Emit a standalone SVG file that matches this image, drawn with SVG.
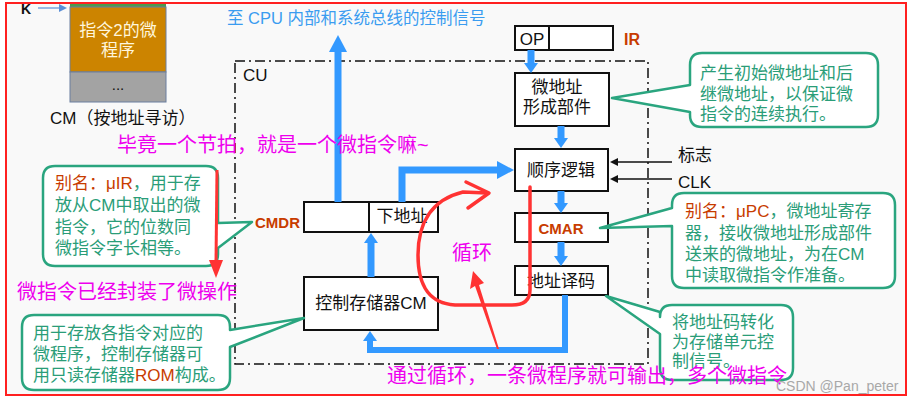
<svg xmlns="http://www.w3.org/2000/svg" width="911" height="403" viewBox="0 0 911 403">
<style>
text{font-family:"Liberation Sans","Noto Sans CJK SC",sans-serif;}
.t17{font-size:17px;fill:#111;}
.box{fill:#fff;stroke:#111;stroke-width:2;}
.org{fill:#c83c00;font-weight:bold;}
.orn{fill:#c83c00;}
.grn{fill:#2a9d78;font-size:17px;}
.call{fill:#fff;stroke:#2aa57f;stroke-width:2.5;stroke-linejoin:round;}
.mag{fill:#ee00ee;font-size:20px;}
.blue{fill:none;stroke:#3399ff;stroke-width:7;}
.red{fill:none;stroke:#ff3333;stroke-width:3.5;stroke-linecap:round;stroke-linejoin:round;}
.blk{fill:none;stroke:#111;stroke-width:1.5;}
</style>
<defs>
<marker id="AH" markerUnits="userSpaceOnUse" markerWidth="17" markerHeight="18" viewBox="0 0 17 18" refX="1" refY="9" orient="auto"><path d="M0,0 L17,9 L0,18 z" fill="#3399ff"/></marker>
<marker id="ah" markerUnits="userSpaceOnUse" markerWidth="10" markerHeight="14" viewBox="0 0 10 14" refX="1" refY="7" orient="auto"><path d="M0,0 L10,7 L0,14 z" fill="#3399ff"/></marker>
<marker id="kh" markerUnits="userSpaceOnUse" markerWidth="8" markerHeight="8" viewBox="0 0 8 8" refX="1" refY="4" orient="auto"><path d="M0,0 L8,4 L0,8 z" fill="#111"/></marker>
<marker id="bh" markerUnits="userSpaceOnUse" markerWidth="8" markerHeight="8" viewBox="0 0 8 8" refX="1" refY="4" orient="auto"><path d="M0,0 L8,4 L0,8 z" fill="#5b8fd6"/></marker>
</defs>
<rect x="0" y="0" width="911" height="403" fill="#fff"/>
<rect x="6" y="3" width="900" height="392" fill="#f9f9f9" stroke="#ff2020" stroke-width="2"/>

<!-- CU boundary -->
<g id="cu">
<rect x="235" y="61" width="413" height="303" fill="none" stroke="#111" stroke-width="1.5" stroke-dasharray="10,4,2,4"/>
<text x="243" y="81" class="t17">CU</text>
</g>

<!-- top-left CM fragment -->
<g id="cm-memory">
<text x="21" y="14" style="font-size:14px;font-weight:bold;fill:#111">K</text>
<line x1="38" y1="8" x2="60" y2="8" stroke="#5b8fd6" stroke-width="1.2" marker-end="url(#bh)"/>
<rect x="70" y="4" width="96" height="3" fill="#4d9a4d"/>
<rect x="70" y="7" width="96" height="65" fill="#cc8400" stroke="#6a7fa0" stroke-width="1"/>
<rect x="70" y="72" width="96" height="30" fill="#a3a3a3" stroke="#6a7fa0" stroke-width="1"/>
<text x="118" y="36" text-anchor="middle" style="font-size:17px;fill:#fff6dc">指令2的微</text>
<text x="118" y="56" text-anchor="middle" style="font-size:17px;fill:#fff6dc">程序</text>
<text x="118" y="90" text-anchor="middle" style="font-size:15px;fill:#111">...</text>
<text x="50" y="124" class="t17">CM（按地址寻访）</text>
</g>

<text x="227" y="24" style="font-size:16.5px;fill:#3a9cf0">至 CPU 内部和系统总线的控制信号</text>

<g id="ir">
<rect x="515" y="26" width="98" height="24" class="box"/>
<line x1="549" y1="26" x2="549" y2="50" stroke="#111" stroke-width="2"/>
<text x="532" y="45" text-anchor="middle" class="t17">OP</text>
<text x="624" y="45" class="org" style="font-size:16px">IR</text>
</g>

<g id="micro-addr-gen">
<rect x="515" y="73" width="94" height="53" class="box"/>
<text x="557" y="93" text-anchor="middle" class="t17">微地址</text>
<text x="557" y="113" text-anchor="middle" class="t17">形成部件</text>
</g>

<g id="seq-logic">
<rect x="515" y="149" width="93" height="42" class="box"/>
<text x="561" y="176" text-anchor="middle" class="t17">顺序逻辑</text>
<text x="678" y="161" class="t17">标志</text>
<text x="678" y="188" class="t17">CLK</text>
</g>

<g id="cmar">
<rect x="515" y="213" width="93" height="29" class="box"/>
<text x="561" y="234" text-anchor="middle" class="org" style="font-size:15px">CMAR</text>
</g>

<g id="addr-decode">
<rect x="515" y="266" width="93" height="29" class="box"/>
<text x="561" y="287" text-anchor="middle" class="t17">地址译码</text>
</g>

<g id="cmdr">
<rect x="304" y="202" width="134" height="30" class="box"/>
<line x1="369" y1="202" x2="369" y2="232" stroke="#111" stroke-width="2"/>
<text x="402" y="222" text-anchor="middle" class="t17">下地址</text>
<text x="255" y="228" class="org" style="font-size:15px">CMDR</text>
</g>

<g id="cm">
<rect x="304" y="277" width="134" height="53" class="box"/>
<text x="371" y="309" text-anchor="middle" class="t17">控制存储器CM</text>
</g>

<!-- connectors -->
<g id="connectors">
<path class="blue" d="M338,202 V51" marker-end="url(#AH)"/>
<path class="blue" d="M531,50 V64" marker-end="url(#ah)"/>
<path class="blue" d="M561,126 V139" marker-end="url(#ah)"/>
<path class="blue" d="M561,191 V204" marker-end="url(#ah)"/>
<path class="blue" d="M561,242 V257" marker-end="url(#ah)"/>
<path class="blue" d="M371,277 V242" marker-end="url(#ah)"/>
<path class="blue" d="M402,202 V170 H498" marker-end="url(#AH)"/>
<path class="blue" style="stroke-width:6" d="M565,295 V350 H370 V340" marker-end="url(#ah)"/>
<path class="blk" d="M672,162 H617" marker-end="url(#kh)"/>
<path class="blk" d="M672,179 H617" marker-end="url(#kh)"/>
</g>

<!-- callouts -->
<g id="callout-gen">
<path class="call" d="M702,53 H866 Q878,53 878,65 V115 Q878,127 866,127 H702 Q690,127 690,115 V112 L612,98 L690,85 V65 Q690,53 702,53 Z"/>
<text x="700" y="79" class="grn">产生初始微地址和后</text>
<text x="700" y="100" class="grn">继微地址，以保证微</text>
<text x="700" y="120" class="grn">指令的连续执行。</text>
</g>

<g id="callout-uir">
<path class="call" d="M55,166 H206 Q218,166 218,178 V223 L252,222 L218,248 V254 Q218,266 206,266 H55 Q43,266 43,254 V178 Q43,166 55,166 Z"/>
<text x="55" y="189" class="grn"><tspan class="orn">别名：μIR</tspan>，用于存</text>
<text x="55" y="211" class="grn">放从CM中取出的微</text>
<text x="55" y="233" class="grn">指令，它的位数同</text>
<text x="55" y="254" class="grn">微指令字长相等。</text>
</g>

<g id="callout-cm">
<path class="call" d="M34,315 H218 Q230,315 230,327 V330 L304,318 L230,347 V378 Q230,390 218,390 H34 Q22,390 22,378 V327 Q22,315 34,315 Z"/>
<text x="33" y="339" class="grn">用于存放各指令对应的</text>
<text x="33" y="360" class="grn">微程序，控制存储器可</text>
<text x="33" y="381" class="grn">用只读存储器<tspan class="orn">ROM</tspan>构成。</text>
</g>

<g id="callout-upc">
<path class="call" d="M684,193 H883 Q895,193 895,205 V276 Q895,288 883,288 H684 Q672,288 672,276 V226 L600,228 L672,208 V205 Q672,193 684,193 Z"/>
<text x="685" y="217" class="grn"><tspan class="orn">别名：μPC</tspan>，微地址寄存</text>
<text x="685" y="239" class="grn">器，接收微地址形成部件</text>
<text x="685" y="260" class="grn">送来的微地址，为在CM</text>
<text x="685" y="281" class="grn">中读取微指令作准备。</text>
</g>

<g id="callout-decode">
<path class="call" d="M672,305 H781 Q793,305 793,317 V368 Q793,380 781,380 H672 Q660,380 660,368 V334 L606,296 L660,312 V317 Q660,305 672,305 Z"/>
<text x="672" y="328" class="grn">将地址码转化</text>
<text x="672" y="348" class="grn">为存储单元控</text>
<text x="672" y="367" class="grn">制信号。</text>
</g>

<!-- annotations -->
<g id="annotations">
<path class="red" d="M530,187 V290 Q530,305 512,305 H455 C425,303 418,280 418,255 C418,225 430,200 463,192 L487,193"/>
<path class="red" d="M466,182 L489,193 L468,208"/>
<path d="M499,349 L497,349 L475,286 L470,289 L473,271 L484,283 L479,285 Z" fill="#ff3333"/>
<line x1="217" y1="170" x2="216" y2="262" stroke="#ff3333" stroke-width="3"/>
<path d="M209,260 L223,260 L216,278 Z" fill="#ff3333"/>
<text x="117" y="152" class="mag">毕竟一个节拍，就是一个微指令嘛~</text>
<text x="17" y="299" class="mag">微指令已经封装了微操作</text>
<text x="452" y="260" class="mag">循环</text>
<text x="387" y="383" class="mag">通过循环，一条微程序就可输出，多个微指令</text>
<text x="776" y="391" style="font-size:14px;fill:#a8a8a8">CSDN @Pan_peter</text>
</g>
</svg>
